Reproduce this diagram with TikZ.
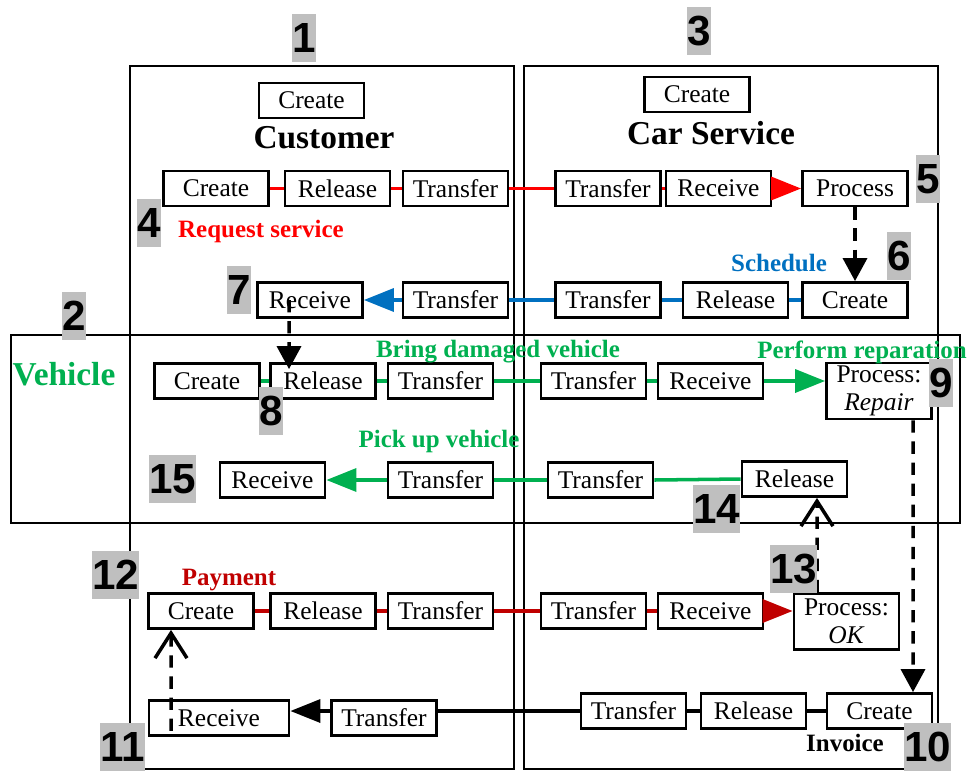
\documentclass[tikz,border=0pt]{standalone}
\usepackage{fontspec}
\setmainfont{Liberation Serif}
\newfontfamily\numfont{Liberation Sans}
\usetikzlibrary{arrows.meta}

\definecolor{reqred}{HTML}{FF0000}
\definecolor{schedblue}{HTML}{0070C0}
\definecolor{vehgreen}{HTML}{00B050}
\definecolor{payred}{HTML}{C00000}

\tikzset{
  box/.style={draw, fill=white, line width=1.6pt, minimum width=2.1cm, minimum height=0.7cm,
    inner sep=1pt, font=\fontsize{14.5}{16}\selectfont},
  procbox/.style={box, minimum height=1.12cm, align=center},
  frame/.style={draw, line width=1.2pt},
  num/.style={fill=black!25, inner xsep=0pt, inner ysep=0pt, minimum height=0.96cm,
    font=\numfont\bfseries\fontsize{24}{24}\selectfont},
  title/.style={font=\bfseries\fontsize{19}{19}\selectfont},
  flowlabel/.style={font=\bfseries\fontsize{14.2}{16}\selectfont},
  link/.style={line width=2pt},
  tri/.style={-{Triangle[length=0.6cm,width=0.46cm]}},
  dasharrow/.style={line width=2pt, dash pattern=on 7pt off 5pt,
    -{Triangle[length=0.46cm,width=0.48cm]}},
  openarrow/.style={line width=2pt, dash pattern=on 7pt off 5pt,
    -{Straight Barb[length=0.5cm,width=0.64cm,line width=2pt]}},
}

\begin{document}
\begin{tikzpicture}[x=0.02cm, y=-0.02cm]
    \useasboundingbox (0,0) rectangle (969,771);

    % frames of the three participants
    \draw[frame] (130,66) rectangle (514,769);  % Customer
    \draw[frame] (524,66) rectangle (938,769);  % Car Service
    \draw[frame] (11,335) rectangle (960,523);  % Vehicle

    % titles
    \node[box] (custNew) at (311.5,100.5) {Create};
    \node[title] (custTitle) at (324,138) {Customer};
    \node[box] (servNew) at (697,94.5) {Create};
    \node[title] (servTitle) at (711,133) {Car Service};
    \node[title, text=vehgreen] (vehTitle) at (64,374) {Vehicle};

    % request service (row B)
    \node[box] (reqCr) at (216,188.5) {Create};
    \node[box] (reqRl) at (337.5,188.5) {Release};
    \node[box] (reqTrC) at (455.5,188.5) {Transfer};
    \node[box] (reqTrS) at (608,188.5) {Transfer};
    \node[box] (reqRc) at (718.5,188.5) {Receive};
    \node[box] (reqPr) at (855,188.5) {Process};
    \draw[link, reqred] (reqCr) -- (reqRl);
    \draw[link, reqred] (reqRl) -- (reqTrC);
    \draw[link, reqred] (reqTrC) -- (reqTrS);
    \draw[link, reqred] (reqTrS) -- (reqRc);
    \draw[link, reqred, tri] (reqRc) -- (reqPr);
    \node[flowlabel, text=reqred] (reqLbl) at (261,231) {Request service};

    % schedule (row C)
    \node[box] (schCr) at (855,300) {Create};
    \node[box] (schRl) at (735.5,300) {Release};
    \node[box] (schTrS) at (608,300) {Transfer};
    \node[box] (schTrC) at (455.5,300) {Transfer};
    \node[box] (schRc) at (310,300) {Receive};
    \draw[link, schedblue] (schCr) -- (schRl);
    \draw[link, schedblue] (schRl) -- (schTrS);
    \draw[link, schedblue] (schTrS) -- (schTrC);
    \draw[link, schedblue, tri] (schTrC) -- (schRc);
    \node[flowlabel, text=schedblue] (schLbl) at (779,263) {Schedule};
    \draw[dasharrow] (reqPr.south) -- (schCr.north);

    % bring damaged vehicle (row D)
    \node[box] (brCr) at (207,381) {Create};
    \node[box] (brRl) at (323,381) {Release};
    \node[box] (brTrC) at (440.5,381) {Transfer};
    \node[box] (brTrS) at (593.5,381) {Transfer};
    \node[box] (brRc) at (710.5,381) {Receive};
    \node[procbox] (repair) at (879,391) {Process:\\\textit{Repair}};
    \draw[link, vehgreen] (brCr) -- (brRl);
    \draw[link, vehgreen] (brRl) -- (brTrC);
    \draw[link, vehgreen] (brTrC) -- (brTrS);
    \draw[link, vehgreen] (brTrS) -- (brRc);
    \draw[link, vehgreen, tri] (brRc.east) -- (brRc.east -| repair.west);
    \node[flowlabel, text=vehgreen] (brLbl) at (498,352) {Bring damaged vehicle};
    \node[flowlabel, text=vehgreen] (repLbl) at (862,352) {Perform reparation};
    \draw[dasharrow] ([xshift=-0.42cm]schRc.center) -- ([xshift=-0.68cm,yshift=-0.14cm]brRl.north);

    % pick up vehicle (row E)
    \node[box] (puRl) at (794.5,479) {Release};
    \node[box] (puTrS) at (600.5,480) {Transfer};
    \node[box] (puTrC) at (440.5,480) {Transfer};
    \node[box] (puRc) at (272.5,480) {Receive};
    \draw[link, vehgreen] (puRl.west) -- (puTrS.east);
    \draw[link, vehgreen] (puTrS) -- (puTrC);
    \draw[link, vehgreen, tri] (puTrC) -- (puRc);
    \node[flowlabel, text=vehgreen] (puLbl) at (439,441) {Pick up vehicle};

    % payment (row F)
    \node[box] (payCr) at (201,611) {Create};
    \node[box] (payRl) at (323,611) {Release};
    \node[box] (payTrC) at (440.5,611) {Transfer};
    \node[box] (payTrS) at (593.5,611) {Transfer};
    \node[box] (payRc) at (710.5,611) {Receive};
    \node[procbox] (payOk) at (846.5,621.5) {Process:\\\textit{OK}};
    \draw[link, payred] (payCr) -- (payRl);
    \draw[link, payred] (payRl) -- (payTrC);
    \draw[link, payred] (payTrC) -- (payTrS);
    \draw[link, payred] (payTrS) -- (payRc);
    \draw[link, payred, tri] (payRc.east) -- (payRc.east -| payOk.west);
    \node[flowlabel, text=payred] (payLbl) at (229,580) {Payment};
    \draw[openarrow] ([xshift=-0.59cm]payOk.north) -- ([xshift=0.45cm]puRl.south);

    % invoice (row G)
    \node[box] (invCr) at (879.5,711) {Create};
    \node[box] (invRl) at (753.5,711) {Release};
    \node[box] (invTrS) at (633.5,711) {Transfer};
    \node[box] (invTrC) at (384,718) {Transfer};
    \node[box, minimum width=2.8cm] (invRc) at (219,718) {Receive};
    \draw[link] (invCr) -- (invRl);
    \draw[link] (invRl) -- (invTrS);
    \draw[link] (invTrS.west) -- (invTrC.east |- invTrS.west);
    \draw[link, tri] (invTrC.west |- invTrS.west) -- (invRc.east |- invTrS.west);
    \node[flowlabel, text=black] (invLbl) at (845,743) {Invoice};
    \draw[dasharrow] ([xshift=0.68cm]repair.south) -- ([xshift=0.67cm]invCr.north);
    \draw[openarrow] ([xshift=-0.96cm,yshift=0.12cm]invRc.south) -- ([xshift=-0.6cm]payCr.south);

    % step numbers
    \node[num] (n1) at (304,38) {1};
    \node[num] (n2) at (74,316) {2};
    \node[num] (n3) at (699,31) {3};
    \node[num] (n4) at (149,223) {4};
    \node[num] (n5) at (928,179) {5};
    \node[num] (n6) at (899,256) {6};
    \node[num] (n7) at (239,289.5) {7};
    \node[num] (n8) at (271,411) {8};
    \node[num] (n9) at (941,383) {9};
    \node[num] (n10) at (927.5,747) {10};
    \node[num] (n11) at (122.5,747) {11};
    \node[num] (n12) at (115.5,575) {12};
    \node[num] (n13) at (793.5,569) {13};
    \node[num] (n14) at (716.5,509) {14};
    \node[num] (n15) at (172.5,479) {15};

\end{tikzpicture}
\end{document}
